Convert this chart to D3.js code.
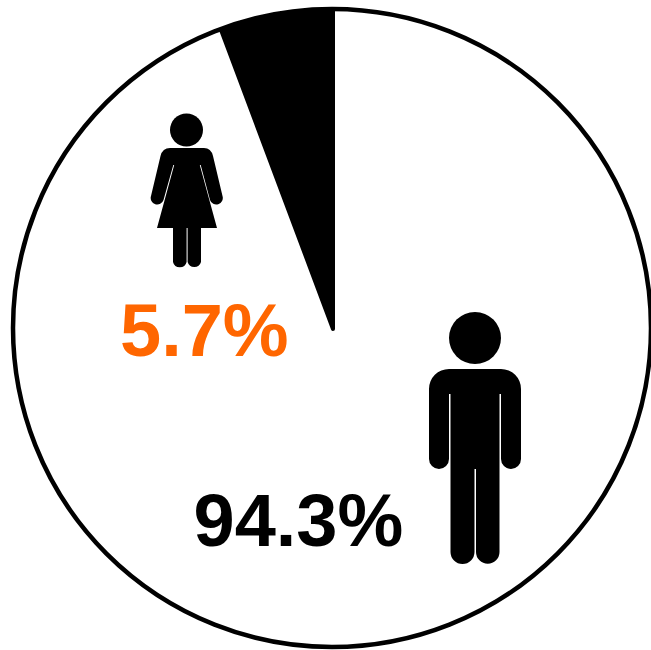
<!DOCTYPE html>
<html>
<head>
<meta charset="utf-8">
<script src="https://cdn.jsdelivr.net/npm/d3@7"></script>
<style>
    html, body { margin: 0; padding: 0; background: #fff; overflow: hidden; }
    svg { display: block; }
    text { font-family: "Liberation Sans", Arial, sans-serif; font-weight: bold; font-size: 74px; }
</style>
</head>
<body>
<svg id="chart"></svg>
<script>
// values
const categories = ['Male', 'Female'];
const shares = [94.3, 5.7];
const sliceColors = ['#ffffff', '#000000'];
const labelColors = ['#000000', '#ff6600'];

const width = 651, height = 650;
const radius = 318;

const svg = d3.select('#chart').attr('width', width).attr('height', height);
const g = svg.append('g').attr('transform', 'translate(333,329)');

const table = categories.map((name, i) => ({ name, share: shares[i], fill: sliceColors[i], labelFill: labelColors[i] }));

// keep the order of the data, clockwise from 12 o'clock
const pie = d3.pie().sort(null).value(d => d.share);
const arc = d3.arc().innerRadius(0).outerRadius(radius);

// the stroke on the dark slice gives it the blunt tip
g.selectAll('.slice')
    .data(pie(table))
    .join('path')
        .attr('class', 'slice')
        .attr('d', arc)
        .attr('fill', d => d.data.fill)
        .attr('stroke', d => d.data.fill)
        .attr('stroke-width', 4)
        .attr('stroke-linejoin', 'round');

// outer ring sits about a pixel off the slice centre in the original
svg.append('circle')
    .attr('cx', 332)
    .attr('cy', 328)
    .attr('r', 319)
    .attr('fill', 'none')
    .attr('stroke', '#000')
    .attr('stroke-width', 4.5);

// icons, page pixels
const icons = svg.append('g').attr('fill', '#000');

// man
icons.append('circle').attr('cx', 475).attr('cy', 338).attr('r', 26);
icons.append('path').attr('d',
    'M449 369 H501 A20 20 0 0 1 521 389 V459 A10 10 0 0 1 501 459 V394 H499.5 V552 ' +
    'A11.5 11.5 0 0 1 476 552 V469 H474.5 V552 A12 12 0 0 1 450.5 552 V394 H449 V459 ' +
    'A10 10 0 0 1 429 459 V389 A20 20 0 0 1 449 369 Z');

// woman
icons.append('circle').attr('cx', 186.5).attr('cy', 130).attr('r', 16.5);
icons.append('path').attr('d',
    'M170 148 H204 Q211 148 213 156 L222.5 196 A6.5 6.5 0 0 1 210 200 L200.7 165 L199.8 165 L217 228 ' +
    'H201 V262 A7 7 0 0 1 187.6 262 V228 H186.6 V262 A7 7 0 0 1 173 262 V228 H157 ' +
    'L174.2 165 L173.3 165 L163.5 200 A6.5 6.5 0 0 1 151 196 L160.5 156 Q162.5 148 170 148 Z');

// percent labels
const labelPos = [[193.5, 546], [120, 356]];
svg.selectAll('.pct')
    .data(table)
    .join('text')
        .attr('class', 'pct')
        .attr('x', (d, i) => labelPos[i][0])
        .attr('y', (d, i) => labelPos[i][1])
        .attr('fill', d => d.labelFill)
        .text(d => d.share.toFixed(1) + '%');
</script>
</body>
</html>
